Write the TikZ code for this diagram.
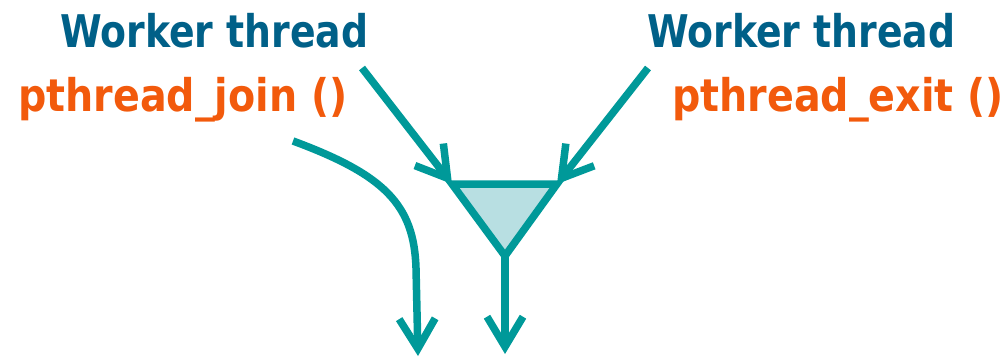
\documentclass[tikz,border=0pt]{standalone}
\usepackage{fontspec}
\newfontfamily\vf[FakeStretch=0.84]{DejaVu Sans}
\newfontfamily\vfo[FakeStretch=0.88]{DejaVu Sans}
\usetikzlibrary{arrows.meta}
\definecolor{teal1}{RGB}{0,153,153}
\definecolor{tfill}{RGB}{184,223,226}
\definecolor{wblue}{RGB}{0,96,136}
\definecolor{porange}{RGB}{242,90,12}
\tikzset{
  wlbl/.style={font=\vf\bfseries\fontsize{45}{50}\selectfont, inner sep=0pt, text=wblue},
  plbl/.style={font=\vfo\bfseries\fontsize{45}{50}\selectfont, inner sep=0pt, text=porange},
  flow/.style={draw=teal1, line width=7.5pt, -{Straight Barb[length=30pt,width=36pt]}},
}
\begin{document}
\begin{tikzpicture}[x=1pt,y=-1pt]
\useasboundingbox (0,0) rectangle (1005,362);
\node[wlbl, anchor=base west] (w1) at (60,47) {Worker thread};
\node[plbl, anchor=base west] (p1) at (18,111) {pthread\_join ()};
\node[wlbl, anchor=base west] (w2) at (647,47) {Worker thread};
\node[plbl, anchor=base west] (p2) at (672,111) {pthread\_exit ()};
\coordinate (tl) at (452,184);
\coordinate (tr) at (557,184);
\coordinate (tb) at (505,256);
\coordinate (s1) at (362,68);
\coordinate (s2) at (648,68);
\coordinate (s3) at (293,141);
\coordinate (e3) at (418,356);
\coordinate (e4) at (505,354);
\draw[draw=teal1, fill=tfill, line width=7.5pt, line join=miter] (tl) -- (tr) -- (tb) -- cycle;
\draw[flow] (s1) -- (tl);
\draw[flow] (s2) -- (tr);
\draw[flow] (tb) -- (e4);
\draw[flow] (s3) .. controls (385,175) and (414,205) .. (416,268) -- (e3);
\end{tikzpicture}
\end{document}
